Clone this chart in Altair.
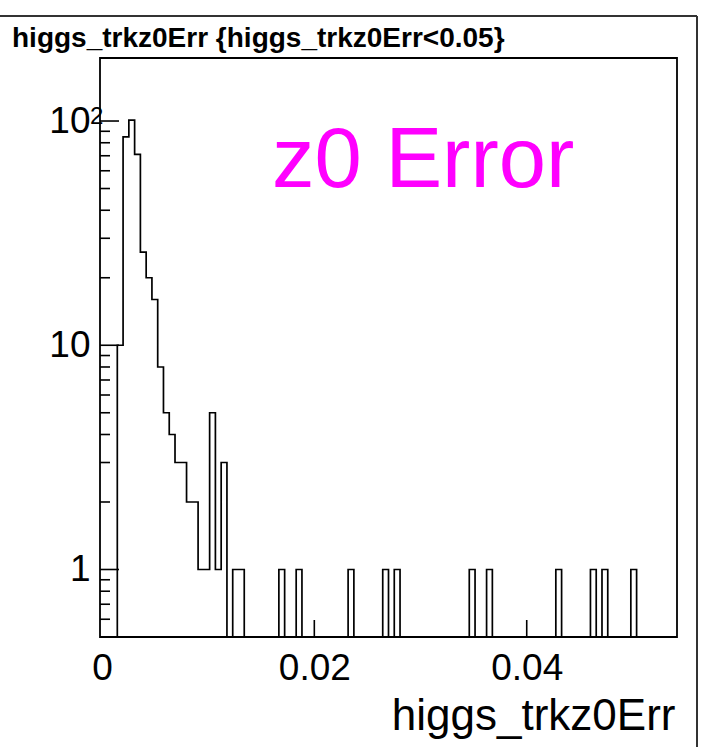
import altair as alt
import pandas as pd

# Histogram definition: 100 equal bins over the x range, counts per bin
X_MIN = -0.00018
X_MAX = 0.05415
N_BINS = 100
COUNTS = [
    0, 0, 0, 10, 85, 101, 71, 26, 20, 16,
    8, 5, 4, 3, 3, 2, 2, 1, 1, 5,
    1, 3, 0, 1, 1, 0, 0, 0, 0, 0,
    0, 1, 0, 0, 1, 0, 0, 0, 0, 0,
    0, 0, 0, 1, 0, 0, 0, 0, 0, 1,
    0, 1, 0, 0, 0, 0, 0, 0, 0, 0,
    0, 0, 0, 0, 1, 0, 0, 1, 0, 0,
    0, 0, 0, 0, 0, 0, 0, 0, 0, 1,
    0, 0, 0, 0, 0, 1, 0, 1, 0, 0,
    0, 0, 1, 0, 0, 0, 0, 0, 0, 0,
]
Y_MIN, Y_MAX = 0.5, 191

X_TICKS = [0.0, 0.02, 0.04]
Y_MAJOR = [1, 10, 100]
Y_MINOR = [0.6, 0.7, 0.8, 0.9, 2, 3, 4, 5, 6, 7, 8, 9, 20, 30, 40, 50, 60, 70, 80, 90]

TITLE = "higgs_trkz0Err {higgs_trkz0Err<0.05}"
X_TITLE = "higgs_trkz0Err"
LABEL = "z0 Error"

FONT = "Liberation Sans"
W, H = 577, 579

bin_w = (X_MAX - X_MIN) / N_BINS
edges = [X_MIN + i * bin_w for i in range(N_BINS + 1)]
# empty bins sit on the lower edge of the log axis
levels = [max(c, Y_MIN) for c in COUNTS] + [max(COUNTS[-1], Y_MIN)]
hist = pd.DataFrame({"x": edges, "n": levels})

xs = alt.Scale(domain=[X_MIN, X_MAX], nice=False, zero=False)
ys = alt.Scale(type="log", domain=[Y_MIN, Y_MAX], nice=False)

xaxis = alt.Axis(
    values=X_TICKS,
    labelExpr="datum.value == 0 ? '0' : format(datum.value, '.2f')",
    ticks=False, domain=False, grid=False,
    labelFont=FONT, labelFontSize=37, labelColor="black", labelPadding=13,
    labelFlush=False,
    title=X_TITLE, titleFont=FONT, titleFontSize=44, titleFontWeight="normal",
    titleColor="black", titleX=575, titleY=92, titleAlign="right",
    titleBaseline="alphabetic", titleAnchor="end",
)
# the exponent of 10^2 is drawn as a separate superscript next to the label
yaxis = alt.Axis(
    values=Y_MAJOR,
    labelExpr="format(datum.value, 'd') == '100' ? '10' : format(datum.value, 'd')",
    ticks=False, domain=False, grid=False,
    labelFont=FONT, labelFontSize=37, labelColor="black", labelPadding=10,
    labelFlush=False, title=None,
)

X = alt.X("x:Q", scale=xs, axis=xaxis)
Y = alt.Y("n:Q", scale=ys, axis=yaxis)

line = alt.Chart(hist).mark_line(
    interpolate="step-after", color="black", strokeWidth=1.7
).encode(x=X, y=Y)

# inward-pointing tick marks on the frame
y_major = alt.Chart(pd.DataFrame({"n": Y_MAJOR})).mark_rule(
    color="black", strokeWidth=1.6
).encode(y=Y, x=alt.value(0), x2=alt.value(19))
y_minor = alt.Chart(pd.DataFrame({"n": Y_MINOR})).mark_rule(
    color="black", strokeWidth=1.6
).encode(y=Y, x=alt.value(0), x2=alt.value(10))
x_major = alt.Chart(pd.DataFrame({"x": X_TICKS[1:]})).mark_rule(
    color="black", strokeWidth=1.6
).encode(x=X, y=alt.value(H), y2=alt.value(H - 17))

exponent = alt.Chart(pd.DataFrame({"n": [100], "t": ["2"]})).mark_text(
    font=FONT, fontSize=24, color="black", align="left", baseline="alphabetic",
    dy=3
).encode(text="t:N", y=Y, x=alt.value(-10))

label = alt.Chart(pd.DataFrame({"t": [LABEL]})).mark_text(
    font=FONT, fontSize=85, color="#ff00ff", align="left", baseline="alphabetic"
).encode(text="t:N", x=alt.value(172), y=alt.value(129))

title = alt.Chart(pd.DataFrame({"t": [TITLE]})).mark_text(
    font=FONT, fontSize=28, fontWeight="bold", color="black",
    align="left", baseline="alphabetic"
).encode(text="t:N", x=alt.value(-88), y=alt.value(-11))

# canvas border (top and right edges)
border_top = alt.Chart(pd.DataFrame({"a": [0]})).mark_rule(
    color="#333333", strokeWidth=2
).encode(x=alt.value(-100), x2=alt.value(597), y=alt.value(-42))
border_right = alt.Chart(pd.DataFrame({"a": [0]})).mark_rule(
    color="#333333", strokeWidth=2
).encode(x=alt.value(597), y=alt.value(-42), y2=alt.value(689))

chart = alt.layer(
    line, y_major, y_minor, x_major, exponent, label, title, border_top, border_right
).properties(
    width=W, height=H,
    padding={"left": 100, "top": 58, "right": 28, "bottom": 110},
    autosize=alt.AutoSizeParams(type="none"),
    background="white",
).configure_view(
    stroke="black", strokeWidth=1.8
)

chart.save("out.html", embed_options={"renderer": "svg", "actions": False})
